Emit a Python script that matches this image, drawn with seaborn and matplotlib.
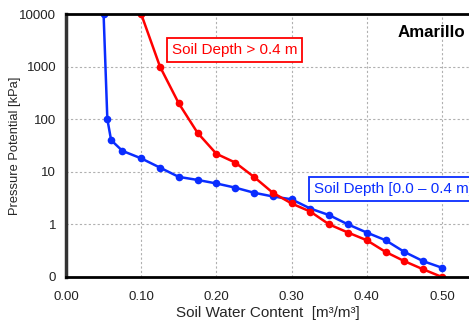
import numpy as np
import pandas as pd
import matplotlib
matplotlib.use("Agg")
import matplotlib.pyplot as plt
import seaborn as sns
from matplotlib.ticker import FixedLocator, FixedFormatter

# ----------------------------------------------------------------------
# DATA
# ----------------------------------------------------------------------
shallow_theta = [0.05, 0.055, 0.06, 0.075, 0.10, 0.125, 0.15, 0.175, 0.20,
                 0.225, 0.25, 0.275, 0.30, 0.325, 0.35, 0.375, 0.40, 0.425,
                 0.45, 0.475, 0.50]
shallow_psi = [10000, 100, 40, 25, 18, 12, 8, 7, 6,
               5, 4, 3.4, 3, 2, 1.5, 1.0, 0.7, 0.5,
               0.3, 0.2, 0.15]

deep_theta = [0.10, 0.125, 0.15, 0.175, 0.20, 0.225, 0.25, 0.275, 0.30,
              0.325, 0.35, 0.375, 0.40, 0.425, 0.45, 0.475, 0.50]
deep_psi = [10000, 1000, 200, 55, 22, 15, 8, 4, 2.5,
            1.75, 1.0, 0.7, 0.5, 0.3, 0.2, 0.14, 0.1]

y_ticks = [0.1, 1, 10, 100, 1000, 10000]
y_labels = ["0", "1", "10", "100", "1000", "10000"]
x_ticks = [0.0, 0.1, 0.2, 0.3, 0.4, 0.5]
x_labels = ["0.00", "0.10", "0.20", "0.30", "0.40", "0.50"]

BLUE = "#0a2dff"
RED = "#ff0000"

sns.set_theme(style="white")
plt.rcParams["font.family"] = ["Liberation Sans", "DejaVu Sans"]

shallow = pd.DataFrame({"theta": shallow_theta, "psi": shallow_psi})
deep = pd.DataFrame({"theta": deep_theta, "psi": deep_psi})

fig = plt.figure(figsize=(4.69, 3.22), dpi=100)
ax = fig.add_axes([0.1407, 0.1398, 0.8593, 0.8167])

sns.lineplot(data=shallow, x="theta", y="psi", ax=ax, color=BLUE,
             marker="o", markersize=5.5, markeredgewidth=0, linewidth=1.8)
sns.lineplot(data=deep, x="theta", y="psi", ax=ax, color=RED,
             marker="o", markersize=5.5, markeredgewidth=0, linewidth=1.8)

ax.set_yscale("log")
ax.set_ylim(0.1, 10000)
ax.set_xlim(0.0, 0.536)

ax.yaxis.set_major_locator(FixedLocator(y_ticks))
ax.yaxis.set_major_formatter(FixedFormatter(y_labels))
ax.yaxis.set_minor_locator(FixedLocator([]))
ax.xaxis.set_major_locator(FixedLocator(x_ticks))
ax.xaxis.set_major_formatter(FixedFormatter(x_labels))

ax.grid(True, which="major", color="#b0b0b0", linestyle=(0, (2, 2)),
        linewidth=0.8)
ax.tick_params(axis="both", length=0, labelsize=9.5, colors="#222222")
ax.tick_params(axis="y", pad=7)
ax.tick_params(axis="x", pad=10)

for side in ["top", "bottom"]:
    ax.spines[side].set_color("black")
    ax.spines[side].set_linewidth(2)
ax.spines["left"].set_color("#333333")
ax.spines["left"].set_linewidth(2.5)
ax.spines["right"].set_visible(False)

ax.set_xlabel("Soil Water Content  [m\u00b3/m\u00b3]", fontsize=11, labelpad=2)
ax.set_ylabel("Pressure Potential [kPa]", fontsize=9.3, labelpad=-1)

ax.text(0.1405, 2070, "Soil Depth > 0.4 m", color=RED, fontsize=11,
        va="center", ha="left",
        bbox=dict(boxstyle="square,pad=0.33", fc="white", ec=RED, lw=1.3))
ax.text(0.330, 4.7, "Soil Depth [0.0 \u2013 0.4 m]", color=BLUE, fontsize=11,
        va="center", ha="left",
        bbox=dict(boxstyle="square,pad=0.33", fc="white", ec=BLUE, lw=1.3))
ax.text(0.4412, 4365, "Amarillo", color="black", fontsize=12.2,
        fontweight="bold", va="center", ha="left")

fig.savefig("out.png", dpi=100)
